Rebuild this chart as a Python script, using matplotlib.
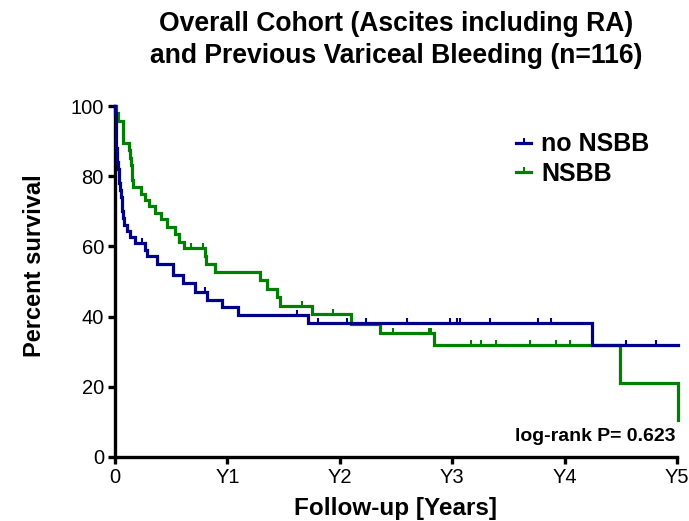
import numpy as np
import matplotlib
matplotlib.use("Agg")
import matplotlib.pyplot as plt
from matplotlib.path import Path
from matplotlib.lines import Line2D

plt.rcParams['font.family'] = ['Liberation Sans', 'DejaVu Sans']

# Kaplan-Meier curves: event times (years) and survival (%) after each step
times_no_nsbb = [0, 0.003, 0.005, 0.007, 0.009, 0.011, 0.013, 0.015, 0.020, 0.026,
                 0.033, 0.040, 0.046, 0.052, 0.058, 0.064, 0.070, 0.078, 0.104, 0.133,
                 0.178, 0.267, 0.282, 0.371, 0.519, 0.608, 0.712, 0.816, 0.949, 1.097,
                 1.713, 4.240, 5.010]
surv_no_nsbb = [100, 98, 96, 94, 92, 90, 88, 86, 84, 82,
                80, 78, 76, 74, 72, 70, 68, 66, 64.5, 62.8,
                60.9, 59.0, 57.4, 55.0, 51.9, 49.5, 47.1, 44.7, 42.8, 40.5,
                38.1, 31.8, 31.8]
censor_no_nsbb = [0.237, 0.805, 1.617, 1.81, 2.06, 2.23, 2.60, 2.98, 3.04, 3.07,
                  3.34, 3.76, 3.88, 4.55, 4.81]

times_nsbb = [0, 0.013, 0.031, 0.068, 0.070, 0.072, 0.125, 0.135, 0.142, 0.148,
              0.155, 0.162, 0.229, 0.268, 0.305, 0.358, 0.410, 0.460, 0.530, 0.570,
              0.610, 0.800, 0.810, 0.890, 1.290, 1.350, 1.440, 1.470, 1.755, 2.100,
              2.360, 2.835, 4.490, 5.010]
surv_nsbb = [100, 97.9, 95.8, 93.7, 91.6, 89.5, 87.4, 85.3, 83.2, 81.1,
             79.0, 77.0, 75.0, 73.2, 71.4, 69.6, 67.8, 65.6, 63.4, 61.3,
             59.5, 57.3, 55.1, 52.7, 50.3, 47.9, 45.5, 43.1, 40.7, 37.8,
             35.2, 31.8, 21.2, 10.6]
censor_nsbb = [0.675, 0.78, 1.66, 1.94, 2.47, 2.79, 2.815, 3.17, 3.26, 3.39,
               3.69, 3.92, 4.05]

x_ticks = [0, 1, 2, 3, 4, 5]
x_tick_labels = ["0", "Y1", "Y2", "Y3", "Y4", "Y5"]
y_ticks = [0, 20, 40, 60, 80, 100]

series = [
    ("NSBB", times_nsbb, surv_nsbb, censor_nsbb, "#008000", 2),
    ("no NSBB", times_no_nsbb, surv_no_nsbb, censor_no_nsbb, "#00008b", 3),
]

# upward censor tick
tick_marker = Path([(0, 0), (0, 1)], [Path.MOVETO, Path.LINETO])

fig = plt.figure(figsize=(6.89, 5.21), dpi=100)
ax = fig.add_axes([115 / 689, 1 - 457 / 521, (677 - 115) / 689, (457 - 106) / 521])

lw = 2.3
for name, t, s, c, col, z in series:
    t = np.asarray(t)
    s = np.asarray(s)
    ax.step(t, s, where='post', color=col, lw=lw, zorder=z, clip_on=False,
            solid_joinstyle='miter')
    idx = np.searchsorted(t, np.asarray(c), side='right') - 1
    ax.plot(c, s[idx], linestyle='none', marker=tick_marker, markersize=7,
            markeredgewidth=1.5, color=col, zorder=z, clip_on=False)

ax.set_xlim(0, 5)
ax.set_ylim(0, 100)
ax.set_xticks(x_ticks)
ax.set_xticklabels(x_tick_labels)
ax.set_yticks(y_ticks)
for side in ("top", "right"):
    ax.spines[side].set_visible(False)
for side in ("left", "bottom"):
    ax.spines[side].set_linewidth(2.4)
    ax.spines[side].set_capstyle('projecting')
ax.tick_params(axis='both', direction='out', length=5, width=2.4, labelsize=14.5,
               color='black', pad=3)

ax.set_xlabel("Follow-up [Years]", fontsize=17.5, fontweight='bold', labelpad=7)
fig.text(35 / 689, 1 - 266 / 521, "Percent survival", rotation=90, fontsize=17,
         fontweight='bold', ha='center', va='center')

fig.text(396 / 689, 1 - 40 / 521,
         "Overall Cohort (Ascites including RA)\nand Previous Variceal Bleeding (n=116)",
         ha='center', va='center', fontsize=19.1, fontweight='bold', linespacing=1.26)

ax.text(4.99, 5.7, "log-rank P= 0.623", ha='right', va='center', fontsize=14,
        fontweight='bold')

handles = [Line2D([0], [0], color="#00008b", lw=lw, marker=tick_marker, markersize=7,
                  markeredgewidth=1.5),
           Line2D([0], [0], color="#008000", lw=lw, marker=tick_marker, markersize=7,
                  markeredgewidth=1.5)]
ax.legend(handles, ["no NSBB", "NSBB"], loc='center left',
          bbox_to_anchor=(516 / 689, 1 - 159 / 521), bbox_transform=fig.transFigure,
          frameon=False, handlelength=0.6, handletextpad=0.4, labelspacing=0.22,
          prop={'weight': 'bold', 'size': 18}, borderaxespad=0, borderpad=0)

fig.savefig("out.png", dpi=100)
